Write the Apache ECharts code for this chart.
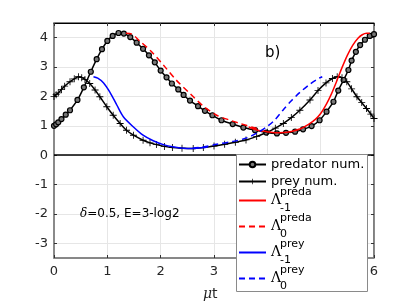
<!DOCTYPE html>
<html><head><meta charset="utf-8">
<script src="https://cdn.jsdelivr.net/npm/echarts@6/dist/echarts.min.js"></script>
<style>html,body{margin:0;padding:0;background:#fff}#c{width:415px;height:301px}</style>
</head><body><div id="c"></div><script>
// ---- data ----
const predT = [0, 0.04, 0.08, 0.14, 0.22, 0.30, 0.44, 0.56, 0.69, 0.80, 0.90, 1.00, 1.10, 1.21, 1.31, 1.43, 1.55, 1.67, 1.78, 1.89, 2.00, 2.11, 2.21, 2.33, 2.43, 2.55, 2.70, 2.83, 2.97, 3.14, 3.35, 3.55, 3.77, 3.98, 4.18, 4.35, 4.52, 4.67, 4.83, 4.98, 5.11, 5.24, 5.33, 5.43, 5.52, 5.58, 5.66, 5.74, 5.83, 5.92, 6.00];
const predV = [1.00, 1.05, 1.12, 1.23, 1.38, 1.53, 1.88, 2.31, 2.84, 3.27, 3.61, 3.89, 4.06, 4.16, 4.14, 4.02, 3.83, 3.62, 3.40, 3.16, 2.88, 2.65, 2.44, 2.24, 2.05, 1.86, 1.67, 1.51, 1.36, 1.19, 1.06, 0.94, 0.85, 0.77, 0.74, 0.76, 0.80, 0.88, 0.99, 1.19, 1.48, 1.82, 2.20, 2.56, 2.90, 3.22, 3.52, 3.75, 3.93, 4.06, 4.12];
const preyT = [0, 0.04, 0.08, 0.14, 0.20, 0.30, 0.38, 0.46, 0.52, 0.58, 0.67, 0.77, 0.86, 0.99, 1.11, 1.24, 1.36, 1.49, 1.67, 1.80, 1.92, 2.07, 2.22, 2.40, 2.61, 2.80, 3.00, 3.20, 3.40, 3.60, 3.80, 4.00, 4.15, 4.30, 4.45, 4.61, 4.80, 4.95, 5.10, 5.22, 5.31, 5.40, 5.49, 5.58, 5.68, 5.77, 5.86, 5.94, 6.00];
const preyV = [2.00, 2.06, 2.12, 2.24, 2.35, 2.50, 2.60, 2.67, 2.64, 2.58, 2.44, 2.22, 1.99, 1.65, 1.36, 1.08, 0.85, 0.68, 0.51, 0.42, 0.36, 0.30, 0.26, 0.24, 0.23, 0.26, 0.31, 0.37, 0.44, 0.52, 0.64, 0.78, 0.92, 1.08, 1.28, 1.53, 1.88, 2.20, 2.46, 2.61, 2.67, 2.64, 2.50, 2.26, 1.99, 1.79, 1.59, 1.40, 1.25];
const lmPredaT = [3.65, 3.80, 3.99, 4.15, 4.30, 4.45, 4.61, 4.78, 4.90, 5.00, 5.11, 5.20, 5.30, 5.40, 5.50, 5.60, 5.70, 5.78, 5.86, 5.92];
const lmPredaV = [0.96, 0.86, 0.80, 0.76, 0.77, 0.81, 0.89, 1.06, 1.22, 1.42, 1.75, 2.08, 2.52, 2.98, 3.40, 3.74, 3.98, 4.10, 4.15, 4.15];
const l0PredaT = [1.35, 1.46, 1.60, 1.83, 2.05, 2.29, 2.55, 2.80, 3.05, 3.30, 3.49, 3.74, 3.85];
const l0PredaV = [4.15, 4.12, 3.90, 3.52, 3.07, 2.56, 2.10, 1.67, 1.36, 1.19, 1.08, 0.94, 0.88];
const lmPreyT = [0.74, 0.82, 0.93, 1.05, 1.18, 1.30, 1.49, 1.67, 1.86, 2.05, 2.25, 2.42, 2.61, 2.80, 2.88];
const lmPreyV = [2.67, 2.62, 2.46, 2.14, 1.70, 1.31, 0.96, 0.68, 0.49, 0.36, 0.28, 0.24, 0.23, 0.26, 0.28];
const l0PreyT = [2.60, 2.80, 3.05, 3.36, 3.60, 3.80, 4.00, 4.15, 4.30, 4.45, 4.60, 4.80, 4.95, 5.03];
const l0PreyV = [0.24, 0.28, 0.37, 0.47, 0.58, 0.75, 0.98, 1.22, 1.55, 1.85, 2.12, 2.42, 2.60, 2.67];
const xTicks = [0, 1, 2, 3, 4, 5, 6];
const yTicks = [-3, -2, -1, 0, 1, 2, 3, 4];
const seriesNames = ['predator num.', 'prey num.', 'Lm1preda', 'L0preda', 'Lm1prey', 'L0prey'];
const legendLabels = {
  'predator num.': 'predator num.',
  'prey num.': 'prey num.',
  'Lm1preda': '{g| }{sup|preda}\n{L|Λ}\n{g| }{sub|-1}',
  'L0preda': '{g| }{sup|preda}\n{L|Λ}\n{g| }{sub|0}',
  'Lm1prey': '{g| }{sup|prey}\n{L|Λ}\n{g| }{sub|-1}',
  'L0prey': '{g| }{sup|prey}\n{L|Λ}\n{g| }{sub|0}'
};
// ---- chart ----
const pairs = (t, v) => t.map((x, i) => [x, v[i]]);
const plusPath = 'path://M0,4.4h10v1.2h-10zM4.4,0h1.2v10h-1.2z';
const font = 'DejaVu Sans';
const legendText = {color: '#000', fontSize: 13, fontFamily: font,
  rich: {
    g: {width: 9, fontSize: 11, lineHeight: 7},
    sup: {fontSize: 11, lineHeight: 7, fontFamily: font, color: '#000'},
    L: {fontSize: 14, lineHeight: 9, fontFamily: 'DejaVu Serif', color: '#000'},
    sub: {fontSize: 11, lineHeight: 7, fontFamily: font, color: '#000'}
  }
};
const legendBase = {orient: 'vertical', left: 238, itemWidth: 27, itemHeight: 7, itemGap: 4,
  padding: 0, z: 12, formatter: n => legendLabels[n], textStyle: legendText};
const legendTops = [158, 187, 213, 239, 265];
const legends = [
  Object.assign({}, legendBase, {top: legendTops[0], data: [{name: seriesNames[0]}, {name: seriesNames[1]}]})
].concat(seriesNames.slice(2).map((n, i) =>
  Object.assign({}, legendBase, {top: legendTops[i + 1], data: [{name: n, itemStyle: {opacity: 0}}]})));
const chart = echarts.init(document.getElementById('c'), null, {renderer: 'canvas'});
const lineBase = {type: 'line', xAxisIndex: 0, yAxisIndex: 0, smooth: 0.3, animation: false, showSymbol: false, symbol: 'none'};
chart.setOption({
  backgroundColor: '#fff',
  animation: false,
  grid: {left: 54, right: 41, top: 23, bottom: 43, show: true, borderColor: '#000', borderWidth: 1, backgroundColor: 'transparent'},
  xAxis: [{
    type: 'value', min: 0, max: 6, interval: 1, position: 'bottom',
    axisLine: {show: true, onZero: false, lineStyle: {color: '#8a8a8a', width: 1.5}},
    axisTick: {show: true, inside: true, length: 3, lineStyle: {color: '#333'}},
    axisLabel: {show: true, margin: 7, color: '#262626', fontSize: 13, fontFamily: font},
    splitLine: {show: true, lineStyle: {color: '#e6e6e6', width: 1}}
  }, {
    type: 'value', min: 0, max: 6, interval: 1, position: 'top',
    axisLine: {show: true, onZero: false, lineStyle: {color: '#000', width: 1}},
    axisTick: {show: true, inside: true, length: 3, lineStyle: {color: '#333'}},
    axisLabel: {show: false}, splitLine: {show: false}
  }],
  yAxis: [{
    type: 'value', min: -3.5, max: 4.5, position: 'left',
    axisLine: {show: true, onZero: false, lineStyle: {color: '#8a8a8a', width: 2}},
    axisTick: {show: true, inside: true, length: 3, customValues: yTicks, lineStyle: {color: '#333'}},
    axisLabel: {show: true, margin: 6, customValues: yTicks, color: '#262626', fontSize: 13, fontFamily: font},
    splitLine: {show: true, lineStyle: {color: '#e6e6e6', width: 1}}
  }, {
    type: 'value', min: -3.5, max: 4.5, position: 'right',
    axisLine: {show: true, onZero: false, lineStyle: {color: '#8a8a8a', width: 1}},
    axisTick: {show: true, inside: true, length: 3, customValues: yTicks, lineStyle: {color: '#333'}},
    axisLabel: {show: false}, splitLine: {show: false}
  }],
  legend: legends,
  graphic: [
    {type: 'rect', z: 10, shape: {x: 236.5, y: 154.5, width: 131, height: 137},
      style: {fill: '#fff', stroke: '#8a8a8a', lineWidth: 1}},
    {type: 'text', left: 265, top: 46, z: 10, style: {text: 'b)', fontSize: 15, fontFamily: font, fill: '#000'}},
    {type: 'text', left: 80, top: 208, z: 10, style: {text: '{i|δ}=0.5, E=3-log2', fontSize: 12, fontFamily: font, fill: '#000',
      rich: {i: {fontStyle: 'italic', fontFamily: 'DejaVu Serif', fontSize: 12}}}},
    {type: 'text', left: 203, top: 287, z: 10, style: {text: '{i|μ}t', fontSize: 14, fontFamily: font, fill: '#262626',
      rich: {i: {fontStyle: 'italic', fontFamily: 'DejaVu Serif', fontSize: 14}}}}
  ],
  series: [
    Object.assign({}, lineBase, {
      name: 'predator num.', data: pairs(predT, predV), z: 3,
      showSymbol: true, symbol: 'circle', symbolSize: 5,
      lineStyle: {color: '#000', width: 1.5},
      itemStyle: {color: '#777', borderColor: '#000', borderWidth: 1.2},
      markLine: {silent: true, symbol: 'none', label: {show: false}, z: 2,
        lineStyle: {color: '#000', width: 1.5, type: 'solid'}, data: [{yAxis: 0}]}
    }),
    Object.assign({}, lineBase, {
      name: 'prey num.', data: pairs(preyT, preyV), z: 3,
      showSymbol: true, symbol: plusPath, symbolSize: 7,
      lineStyle: {color: '#000', width: 1.5},
      itemStyle: {color: '#000'}
    }),
    Object.assign({}, lineBase, {name: 'Lm1preda', data: pairs(lmPredaT, lmPredaV), z: 4,
      lineStyle: {color: '#ff0000', width: 1.5, type: 'solid'}, itemStyle: {color: '#ff0000'}}),
    Object.assign({}, lineBase, {name: 'L0preda', data: pairs(l0PredaT, l0PredaV), z: 4,
      lineStyle: {color: '#ff0000', width: 1.5, type: [6, 4]}, itemStyle: {color: '#ff0000'}}),
    Object.assign({}, lineBase, {name: 'Lm1prey', data: pairs(lmPreyT, lmPreyV), z: 4,
      lineStyle: {color: '#0000ff', width: 1.5, type: 'solid'}, itemStyle: {color: '#0000ff'}}),
    Object.assign({}, lineBase, {name: 'L0prey', data: pairs(l0PreyT, l0PreyV), z: 4,
      lineStyle: {color: '#0000ff', width: 1.5, type: [6, 4]}, itemStyle: {color: '#0000ff'}})
  ]
});
</script></body></html>
